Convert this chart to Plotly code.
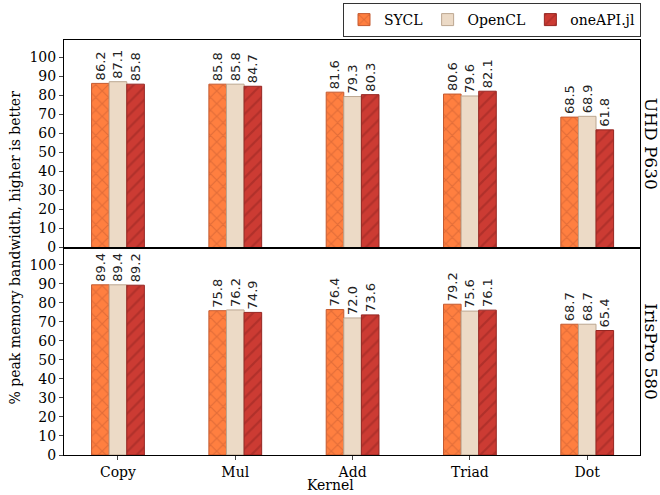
import plotly.graph_objects as go

kernels = ["Copy", "Mul", "Add", "Triad", "Dot"]
devices = ["UHD P630", "IrisPro 580"]

# Achieved bandwidth as % of peak, per device and implementation
sycl = {
    "UHD P630": [86.2, 85.8, 81.6, 80.6, 68.5],
    "IrisPro 580": [89.4, 75.8, 76.4, 79.2, 68.7],
}
opencl = {
    "UHD P630": [87.1, 85.8, 79.3, 79.6, 68.9],
    "IrisPro 580": [89.4, 76.2, 72.0, 75.6, 68.7],
}
oneapi = {
    "UHD P630": [85.8, 84.7, 80.3, 82.1, 61.8],
    "IrisPro 580": [89.2, 74.9, 73.6, 76.1, 65.4],
}

yticks = list(range(0, 101, 10))

series = [
    ("SYCL", sycl, "#ff7f40", "#c45a30", "x"),
    ("OpenCL", opencl, "#ecdac6", "#bca791", ""),
    ("oneAPI.jl", oneapi, "#cc3b33", "#962622", "/"),
]

SERIF = "DejaVu Serif"
SANS = "DejaVu Sans"

# figure and plot-area geometry in pixels
W, H = 660, 495
L, R, T, B = 64, 20, 40, 40
PW, PH = W - L - R, H - T - B


def px_x(px):
    return (px - L) / PW


def px_y(py):
    return (H - B - py) / PH


fig = go.Figure()
for row, dev in enumerate(devices):
    xa = "x" if row == 0 else "x2"
    ya = "y" if row == 0 else "y2"
    for name, data, fill, edge, shape in series:
        vals = data[dev]
        fig.add_trace(go.Bar(
            x=kernels, y=vals, name=name,
            xaxis=xa, yaxis=ya,
            legendgroup=name, showlegend=(row == 0),
            marker=dict(
                color=fill,
                line=dict(color=edge, width=1),
                pattern=dict(shape=shape, fgcolor=edge, size=9, solidity=0.25),
            ),
            text=[f"{v:.1f}" for v in vals],
            textposition="outside",
            textangle=-90,
            constraintext="none",
            cliponaxis=False,
            textfont=dict(family=SANS, size=13, color="#222"),
        ))

axis_common = dict(
    showline=True, linecolor="black", linewidth=1, mirror=True,
    showgrid=False, zeroline=False,
)
fig.update_layout(
    width=W, height=H,
    margin=dict(l=L, r=R, t=T, b=B, autoexpand=False),
    paper_bgcolor="white", plot_bgcolor="white",
    barmode="group", bargap=0.55, bargroupgap=0,
    font=dict(family=SERIF, size=14, color="black"),
    xaxis=dict(axis_common, range=[-0.46, 4.45], anchor="y",
               showticklabels=False, ticks=""),
    yaxis=dict(axis_common, domain=[0.5, 1], range=[0, 109], anchor="x",
               tickvals=yticks, ticks="outside", ticklen=4,
               tickfont=dict(family=SERIF, size=14)),
    xaxis2=dict(axis_common, range=[-0.46, 4.45], anchor="y2",
                ticks="outside", ticklen=4,
                tickfont=dict(family=SERIF, size=14)),
    yaxis2=dict(axis_common, domain=[0, 0.5], range=[0, 109], anchor="x2",
                tickvals=yticks, ticks="outside", ticklen=4,
                tickfont=dict(family=SERIF, size=14)),
    legend=dict(
        orientation="h", xref="container", yref="container",
        x=641 / W, xanchor="right", y=1 - 3 / H, yanchor="top",
        bordercolor="#333", borderwidth=1,
        font=dict(family=SERIF, size=14),
        traceorder="normal",
    ),
    annotations=[
        dict(text="UHD P630", x=px_x(651), y=0.75, xref="paper", yref="paper",
             xanchor="center", yanchor="middle", textangle=90,
             showarrow=False, font=dict(family=SERIF, size=17)),
        dict(text="IrisPro 580", x=px_x(651), y=0.25, xref="paper", yref="paper",
             xanchor="center", yanchor="middle", textangle=90,
             showarrow=False, font=dict(family=SERIF, size=17)),
        dict(text="% peak memory bandwidth, higher is better",
             x=px_x(14), y=px_y(247.5), xref="paper", yref="paper",
             xanchor="center", yanchor="middle",
             showarrow=False, textangle=-90, font=dict(family=SERIF, size=14)),
        dict(text="Kernel", x=px_x(330), y=px_y(485), xref="paper", yref="paper",
             xanchor="center", yanchor="middle",
             showarrow=False, font=dict(family=SERIF, size=14)),
    ],
)

fig.write_html("out.html")
